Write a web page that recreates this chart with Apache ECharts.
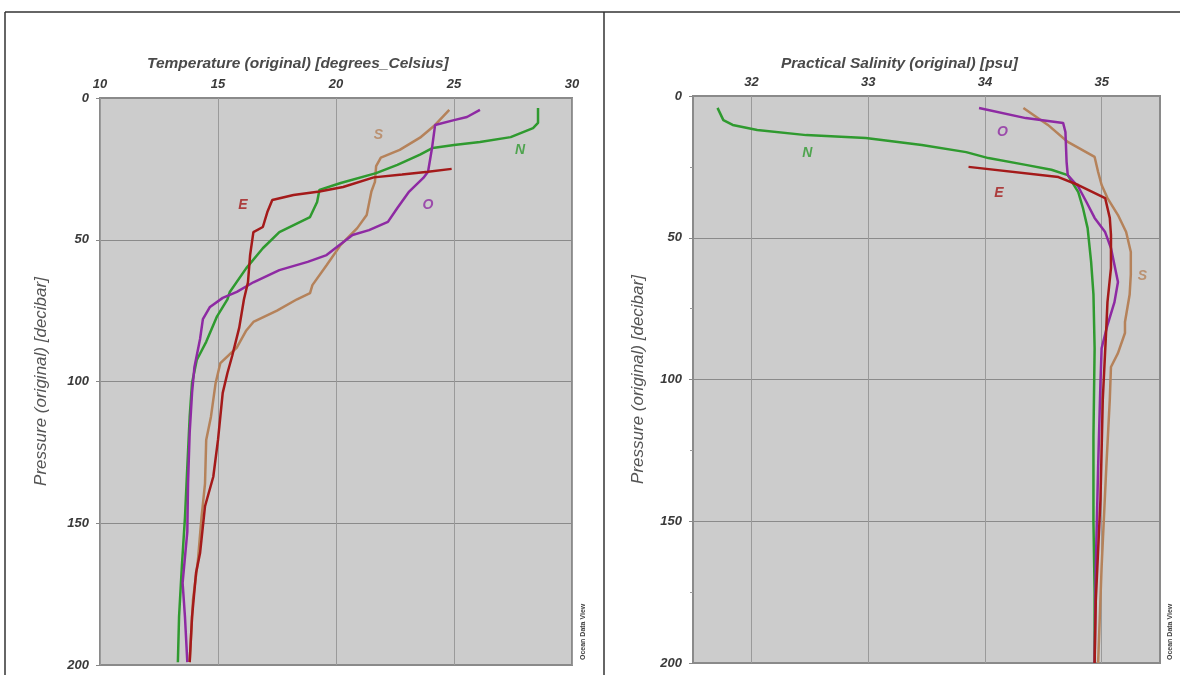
<!DOCTYPE html>
<html><head><meta charset="utf-8">
<script src="https://cdn.jsdelivr.net/npm/echarts@6/dist/echarts.min.js"></script>
<style>html,body{margin:0;padding:0;background:#fff}#c{width:1180px;height:675px}</style>
</head><body><div id="c"></div>
<script>
// ---- data: [value, pressure] pairs ----
const tempN = [[28.56,3.5],[28.56,8.8],[28.35,10.6],[27.4,13.8],[26.1,15.5],[25.0,16.6],[24.1,17.6],[23.56,20],[22.6,23.6],[21.7,26.5],[20.2,30],[19.3,32.4],[19.2,36.7],[18.9,42],[17.6,47.3],[16.9,53],[16.2,60],[15.5,68.4],[15.4,71],[14.96,77],[14.5,86],[14.1,92.4],[13.9,100.5],[13.8,112.5],[13.7,130],[13.6,148],[13.47,165],[13.35,183],[13.3,199]];
const tempS = [[24.8,4.2],[24.2,9.5],[23.56,14],[22.7,18.3],[21.9,21],[21.7,24],[21.65,29.6],[21.5,33],[21.3,41.3],[20.9,45.9],[20.2,51.8],[19.6,59],[19.0,66],[18.9,68.8],[18.35,71],[17.5,75],[16.5,79],[16.2,82],[15.8,88],[15.1,93.5],[14.9,100.5],[14.7,112.5],[14.5,120.6],[14.45,136],[14.3,148],[14.15,163],[13.94,177],[13.8,199]];
const tempE = [[24.9,25],[23.9,26],[22.8,27],[21.6,28],[20.3,31.4],[19.3,33],[18.2,34.2],[17.3,36],[17.1,40],[16.9,45.5],[16.5,47.3],[16.36,55.4],[16.27,65],[16.1,71],[15.9,81],[15.6,91],[15.4,97],[15.2,104],[15.0,120.6],[14.8,133.6],[14.45,144],[14.24,160.5],[14.07,167.5],[13.9,183],[13.8,199]];
const tempO = [[26.1,4.2],[25.55,6.7],[25.0,7.8],[24.2,9.5],[24.07,17.6],[23.9,26],[23.7,28.2],[23.1,33],[22.6,38.8],[22.2,43.7],[21.4,46.6],[20.7,48.3],[19.6,55.4],[18.8,57.8],[17.6,60.7],[16.5,65],[15.8,68.4],[15.2,70.5],[14.66,73.7],[14.36,78],[14.24,85],[14.0,95],[13.9,104],[13.8,118],[13.73,136],[13.7,153],[13.5,171],[13.6,183],[13.7,199]];

const salN = [[31.71,4.2],[31.76,8.5],[31.84,10.2],[32.05,12],[32.47,13.8],[32.98,14.8],[33.46,17.3],[33.84,19.8],[34.03,21.9],[34.35,24.3],[34.57,26],[34.71,27.9],[34.8,33.9],[34.84,39.5],[34.88,46.6],[34.91,58.5],[34.93,70],[34.94,89],[34.93,120],[34.93,150],[34.94,175],[34.94,200]];
const salO = [[33.95,4.2],[34.35,7.8],[34.67,9.5],[34.69,12.7],[34.7,23.3],[34.71,27.9],[34.8,32],[34.87,37.4],[34.94,43],[35.03,48],[35.08,53.6],[35.14,65.6],[35.11,72.7],[35.05,80.8],[35.0,89],[34.99,101],[34.97,131],[34.95,166],[34.94,200]];
const salE = [[33.86,25],[34.63,28.6],[34.8,31.4],[35.03,36],[35.07,43],[35.08,49],[35.08,60.7],[35.05,72.7],[35.04,81.8],[35.01,107],[34.99,142.5],[34.95,178],[34.94,200]];
const salS = [[34.33,4.2],[34.54,10.2],[34.71,16.2],[34.94,21.5],[34.97,26.8],[35.0,31.4],[35.05,36],[35.14,42],[35.21,48],[35.25,55],[35.25,63],[35.24,70],[35.2,79.7],[35.2,83.6],[35.14,90.7],[35.08,95.6],[35.07,107],[35.04,131],[35.0,166],[34.97,200]];

// station label anchors [value, pressure, letter]
const tempLabels = [[21.8,13,'S'],[27.8,18.3,'N'],[16.06,37.7,'E'],[23.9,37.7,'O']];
const salLabels = [[32.48,20,'N'],[34.15,12.7,'O'],[34.12,34.2,'E'],[35.35,63.5,'S']];

const tempTicks = [10,15,20,25,30];
const salTicks = [32,33,34,35];
const pressureTicks = [0,50,100,150,200];

const titles = ['Temperature (original) [degrees_Celsius]','Practical Salinity (original) [psu]'];
const yName = 'Pressure (original) [decibar]';

const colors = {N:'#2f9a2f', S:'#b5825a', E:'#a41a1a', O:'#8e2aa3'};

const chart = echarts.init(document.getElementById('c'));
const labelFont = {fontFamily:'Liberation Sans, Arial', fontStyle:'italic', fontWeight:'bold', fontSize:13, color:'#3a3a3a'};

function xAx(idx, min, max, ticks){
  return {type:'value', gridIndex:idx, position:'top', min:min, max:max,
    axisLine:{show:false},
    axisTick:{show:false, customValues:ticks},
    axisLabel:Object.assign({margin:7, customValues:ticks}, labelFont),
    splitLine:{show:true, lineStyle:{color:'#9a9a9a', width:1}}};
}
function yAx(idx, gap, minor){
  return {type:'value', gridIndex:idx, inverse:true, min:0, max:200, interval:50,
    name:yName, nameLocation:'middle', nameGap:gap, nameRotate:90,
    nameTextStyle:{fontFamily:'Liberation Sans, Arial', fontStyle:'italic', fontSize:17, color:'#555'},
    axisLine:{show:false},
    axisTick:{show:true, length:4, lineStyle:{color:'#888'}},
    minorTick:{show:minor, splitNumber:2, length:3, lineStyle:{color:'#999'}},
    axisLabel:Object.assign({margin:11}, labelFont),
    splitLine:{show:true, lineStyle:{color:'#8a8a8a', width:1}}};
}
function line(name, data, idx){
  return {type:'line', name:name, data:data, xAxisIndex:idx, yAxisIndex:idx, symbol:'none', smooth:false,
    lineStyle:{color:colors[name], width:2.5}, z:3};
}
function letters(arr, idx){
  return {type:'scatter', xAxisIndex:idx, yAxisIndex:idx, symbolSize:0, silent:true, z:4,
    data:arr.map(d=>({value:[d[0],d[1]], name:d[2],
      label:{show:true, position:'inside', formatter:d[2], fontFamily:'Liberation Sans, Arial', fontStyle:'italic', fontWeight:'bold', fontSize:14, color:colors[d[2]]}}))};
}

chart.setOption({
  animation:false,
  backgroundColor:'#ffffff',
  title:[
    {text:titles[0], left:142, top:51, textStyle:{fontFamily:'Liberation Sans, Arial', fontStyle:'italic', fontWeight:'bold', fontSize:15.5, color:'#4a4a4a'}},
    {text:titles[1], left:776, top:51, textStyle:{fontFamily:'Liberation Sans, Arial', fontStyle:'italic', fontWeight:'bold', fontSize:15.5, color:'#4a4a4a'}}
  ],
  grid:[
    {left:100, top:98, width:472, height:567, show:true, backgroundColor:'#cccccc', borderColor:'#8a8a8a', borderWidth:2},
    {left:693, top:96, width:467, height:567, show:true, backgroundColor:'#cccccc', borderColor:'#8a8a8a', borderWidth:2}
  ],
  xAxis:[xAx(0,10,30,tempTicks), xAx(1,31.5,35.5,salTicks)],
  yAxis:[yAx(0,50,false), yAx(1,46,true)],
  series:[
    line('S', tempS, 0), line('N', tempN, 0), line('O', tempO, 0), line('E', tempE, 0),
    line('S', salS, 1), line('N', salN, 1), line('O', salO, 1), line('E', salE, 1),
    letters(tempLabels, 0), letters(salLabels, 1)
  ],
  graphic:[
    {type:'line', shape:{x1:5,y1:12,x2:1180,y2:12}, style:{stroke:'#333', lineWidth:1.5}},
    {type:'line', shape:{x1:5,y1:12,x2:5,y2:675}, style:{stroke:'#333', lineWidth:1.5}},
    {type:'line', shape:{x1:604,y1:12,x2:604,y2:675}, style:{stroke:'#333', lineWidth:1.5}},
    {type:'text', x:580, y:660, rotation:Math.PI/2, style:{text:'Ocean Data View', fontSize:7, fontFamily:'Liberation Sans, Arial', fontWeight:'bold', fill:'#444'}},
    {type:'text', x:1167, y:660, rotation:Math.PI/2, style:{text:'Ocean Data View', fontSize:7, fontFamily:'Liberation Sans, Arial', fontWeight:'bold', fill:'#444'}}
  ]
});
</script></body></html>
